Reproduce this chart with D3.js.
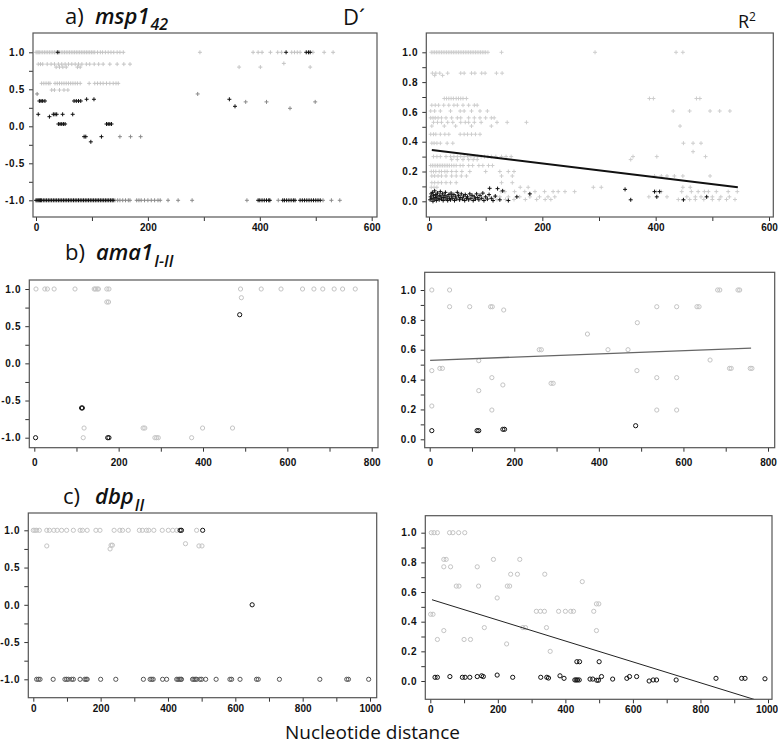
<!DOCTYPE html>
<html><head><meta charset="utf-8">
<script src="https://cdn.jsdelivr.net/npm/d3@7"></script>
<style>body{margin:0;background:#fff}svg{display:block}</style>
</head><body>
<script>
// ---------- DATA ----------
// Panel a) msp1_42, D'  (rows: [y, [x...]])
const aDLightRows = [
  [1.0, [0,2,4,6,9,12,15,18,21,24,27,30,33,36,39,42,45,48,51,54,57,60,63,66,69,72,75,78,81,84,87,90,93,96,99,102,105,110,115,119,124,129,134,139,145,150,156,293,388,397,404,419,432,439,457,462,467,472,495,515,531]],
  [0.84, [4,8,12,20,27,33,40,46,52,58,64,70,76,82,90,96,104,112,120,132,145,157,168]],
  [0.80, [36,42,48,54,74,79,363,401,490]],
  [0.85, [443]],
  [0.58, [10,14,18,22,25,34,38,42,46,50,54,58,62,66,70,74,79,95,105,110,115,120,126,132,138,143,147]],
  [0.49, [28,33,42,50,57]]
];
const aDMidRows = [
  [-0.14, [150,169,187]],
  [0.33, [374.8,412,499]],
  [0.243, [454]],
  [0.437, [2,289]],
  [-1.0, [141,146,150,155,160,165,168,180,184,188,194,200,206,212,218,222,236,254,279,377,433,513,528,543]]
];
const aDDarkRows = [
  [0.342, [6,9,12,16,68,72,76,80]],
  [0.365, [90.5,103.6,345.6]],
  [0.27, [355.7]],
  [0.162, [4,31,34,37,47.6,65.6]],
  [0.13, [24]],
  [0.031, [40,43,46,49,52,126,129,132,135]],
  [-0.14, [86,89,117]],
  [-0.21, [98]],
  [1.0, [39,447,483,487,490]],
  [-1.0, [0,2,4,6,8,10,13,16,19,22,25,28,31,34,37,40,43,46,49,52,55,58,61,64,67,70,73,76,79,82,85,88,91,94,97,100,103,106,109,112,115,118,121,124,127,130,133,136,138,397,400,404,408,412,416,418,441,444,448,452,456,460,463,472,476,480,484,488,492,496,500,504,508]]
];

// Panel a) msp1_42, R^2
const aRLightRows = [
  [1.0, [4,7,10,13,16,19,22,25,28,31,34,37,40,43,46,49,52,55,58,61,64,67,70,73,76,79,82,85,88,91,94,97,100,104,128,293,436,448]],
  [0.86, [6,12,19,33,56,62,75,81,93,99,119,129]],
  [0.845, [10,24]],
  [0.69, [27,31,35,39,43,48,52,56,60,66,389,396,472,478]],
  [0.645, [5,11,17,26,35,44,50,60,70,80,85]],
  [0.606, [3,10,20,38,55,62,75,90,103,431,460,496,513,531]],
  [0.56, [3,7,11,16,22,30,40,50,56,70,80,90,100,110,115]],
  [0.53, [8,15,22,33,42,56,64,70,80,92,120,138,172]],
  [0.505, [5,27,47,75,110,443]],
  [0.45, [3,8,12,20,28,35,55,62,68,75,82,90]],
  [0.39, [5,9,14,20,32,42,449,466,480]],
  [0.333, [466]],
  [0.3, [8,14,20,30,38,44,50,56,62,68,74,80,86,92,98,104,110,118,128,136,145,360,402,488]],
  [0.28, [40,50,60,70,78,85,356]],
  [0.24, [3,6,9,12,15,18,21,24,27,30,33,36,40,44,48,55,60,70,77,88,95,105,112]],
  [0.2, [4,8,12,18,22,28,32,40,48,58,72,100,125,140,150]],
  [0.17, [5,10,16,22,30,40,48,57,66,128,147,398,410,420,433,448,496]],
  [0.125, [5,10,16,22,30,38,48,128,147]],
  [0.094, [4,9,14,161,175,290,304,448,461]],
  [0.065, [127,134,151,169,187,204,219,228,240,257,401,410,446,463,475,486,493,507,528,544]],
  [0.03, [116,125,140,160,178,195,210,222,388,420,455,470,480,500,515,530]],
  [0.012, [120,135,150,170,190,205,215,440,460,470,485,500,512,525,540]]
];
const aRDark = [[2,0.01],[3,0.03],[4,0.05],[5,0.02],[6,0.06],[7,0.0],[8,0.04],[9,0.015],[10,0.07],[11,0.025],[12,0.045],[13,0.005],[14,0.035],[15,0.055],[16,0.02],[18,0.01],[19,0.04],[20,0.065],[21,0.03],[22,0.015],[24,0.05],[25,0.005],[26,0.025],[28,0.04],[29,0.06],[30,0.015],[32,0.03],[33,0.005],[35,0.045],[36,0.02],[38,0.01],[39,0.055],[40,0.035],[42,0.02],[44,0.045],[45,0.005],[47,0.03],[49,0.015],[50,0.06],[52,0.04],[54,0.01],[55,0.025],[57,0.05],[59,0.015],[61,0.035],[63,0.005],[64,0.045],[66,0.02],[68,0.03],[70,0.01],[72,0.05],[74,0.02],[76,0.04],[78,0.005],[80,0.03],[82,0.015],[84,0.05],[86,0.025],[88,0.01],[90,0.04],[93,0.02],[95,0.055],[97,0.005],[100,0.03],[103,0.015],[106,0.045],[107,0.087],[110,0.02],[113,0.005],[117,0.035],[121,0.085],[125,0.01],[130,0.07],[140,0.005],[155,0.03],[178,0.05],[346,0.08],[356,0.01],[398,0.065],[402,0.03],[407,0.065],[449,0.01],[490,0.03]];
const aRLine = [[5,0.345],[545,0.095]];

// Panel b) ama1_I-II
const bDLight = [[4,1],[25,1],[31,1],[47,1],[96.5,1],[142,1],[145,1],[149,1],[152,1],[172,1],[177,1],[489,1],[538,1],[585,1],[636,1],[663,1],[684,1],[711,1],[731,1],[761,1],[491,0.883],[172,0.825],[176,0.825],[118,-0.87],[258,-0.87],[262,-0.87],[399,-0.87],[470,-0.87],[116,-1],[286,-1],[290,-1],[294,-1],[373,-1]];
const bDDark = [[487,0.654],[112,-0.6],[114,-0.6],[3,-1],[174,-1],[177,-1]];
const bRLight = [[5,1],[47,1],[47,0.888],[94.6,0.888],[144,0.888],[148,0.888],[175,0.866],[5,0.46],[5,0.223],[24,0.475],[30,0.475],[116,0.527],[116,0.326],[147,0.413],[147,0.196],[173,0.364],[259,0.6],[264,0.6],[287,0.375],[292,0.375],[373,0.705],[421.6,0.6],[469,0.6],[491,0.781],[490,0.46],[537,0.888],[537,0.413],[537,0.196],[584,0.888],[584,0.413],[584,0.196],[632,0.888],[637,0.888],[663,0.531],[681,1],[686,1],[709,0.475],[713,0.475],[729,1],[733,1],[758,0.475],[762,0.475]];
const bRDark = [[5,0.058],[112,0.058],[116,0.058],[173,0.067],[177,0.067],[487,0.091]];
const bRLine = [[1,0.529],[760,0.611]];

// Panel c) dbp_II
const cDLightRows = [
  [1.0, [0,5,10,18,40,48,61,71,84,99,119,139,146,160,186,198,240,257,265,282,315,324,336,343,358,383,401,414,426,485]]
];
const cDLightExtra = [[40,0.79],[228,0.75],[231,0.8],[235,0.8],[452,0.82],[492,0.79],[501,0.79]];
const cDDark = [[436,1],[440,1],[503,1],[650,0]];
const cDMidX = [10,15,20,59,94,99,104,114,119,139,153,157,160,200,245,327,347,352,356,384,396,426,430,434,438,440,473,477,481,485,495,500,512,543,584,589,614,663,668,731,851,931,936,996];
const cRLight = [[3,1],[11,1],[21,1],[57,1],[67,1],[84,1],[102,1],[40,0.82],[47,0.82],[187,0.82],[265,0.82],[40,0.77],[60,0.77],[139,0.77],[238,0.72],[258,0.72],[339,0.72],[450,0.67],[77,0.64],[85,0.64],[143,0.64],[228,0.64],[235,0.64],[198,0.56],[492,0.52],[499,0.52],[314,0.47],[326,0.47],[338,0.47],[380,0.47],[400,0.47],[416,0.47],[424,0.47],[484,0.47],[1,0.45],[8,0.45],[160,0.36],[274,0.36],[282,0.36],[344,0.36],[40,0.34],[492,0.34],[21,0.28],[100,0.28],[119,0.28],[226,0.25],[355,0.2]];
const cRDark = [[434,0.13],[442,0.13],[500,0.13],[14,0.025],[21,0.025],[58,0.03],[95,0.025],[103,0.025],[117,0.025],[139,0.03],[152,0.035],[157,0.03],[198,0.04],[244,0.025],[327,0.025],[345,0.025],[350,0.02],[384,0.035],[396,0.018],[428,0.007],[432,0.007],[436,0.007],[441,0.007],[473,0.013],[481,0.013],[493,0.005],[498,0.005],[507,0.03],[540,0.013],[582,0.018],[590,0.03],[611,0.03],[648,0.0],[660,0.007],[670,0.007],[728,0.007],[846,0.018],[922,0.018],[932,0.018],[991,0.015]];
const cRLine = [[5,0.548],[1000,-0.153]];

// Ticks
const dTicks = [-1,-0.75,-0.5,-0.25,0,0.25,0.5,0.75,1];
const dTickLabels = [-1,-0.5,0,0.5,1];
const rTicks = [0,0.1,0.2,0.3,0.4,0.5,0.6,0.7,0.8,0.9,1.0];
const rTickLabels = [0,0.2,0.4,0.6,0.8,1.0];
const x600Ticks = [0,100,200,300,400,500,600];
const x800Ticks = [0,100,200,300,400,500,600,700,800];
const x1000Ticks = [0,100,200,300,400,500,600,700,800,900,1000];
const xLabelsEvery = 200;

// ---------- DRAW ----------
const rows = r => r.flatMap(([yv, xs]) => xs.map(xv => [xv, yv]));
const svg = d3.select("body").append("svg").attr("width",778).attr("height",745);
const LIGHT = "#c4c4c4", LIGHT2 = "#cdcdcd", MID = "#8a8a8a", DARK = "#111";

const panels = [
  {id:"aD", f:[33,33,377,217], xd:[0,600], xr:[36,371.7], yd:[-1,1], yr:[200.3,52.3], xt:x600Ticks, yt:dTicks, yl:dTickLabels, xpad:3,
   sets:[[rows(aDLightRows),LIGHT,"plus"],[rows(aDMidRows),MID,"plus"],[rows(aDDarkRows),DARK,"plus"]]},
  {id:"aR", f:[426.3,33,773.3,217], xd:[0,600], xr:[429,769], yd:[0,1], yr:[201.3,52.3], xt:x600Ticks, yt:rTicks, yl:rTickLabels, xpad:3,
   sets:[[rows(aRLightRows),LIGHT2,"plus"],[aRDark,DARK,"plus"]], line:aRLine, lw:2, lc:"#111"},
  {id:"bD", f:[29.3,280,378,447.7], xd:[0,800], xr:[34.3,371.7], yd:[-1,1], yr:[437.7,289], xt:x800Ticks, yt:dTicks, yl:dTickLabels, xpad:7,
   sets:[[bDLight,LIGHT,"circle"],[bDDark,DARK,"circle"]]},
  {id:"bR", f:[424.7,272.3,774.7,447.7], xd:[0,800], xr:[429.7,768], yd:[0,1], yr:[439.3,290], xt:x800Ticks, yt:rTicks, yl:rTickLabels, xpad:7,
   sets:[[bRLight,LIGHT,"circle"],[bRDark,DARK,"circle"]], line:bRLine, lw:1.3, lc:"#666"},
  {id:"cD", f:[28.3,513,376.7,697.7], xd:[0,1000], xr:[33.3,370], yd:[-1,1], yr:[679.3,530.3], xt:x1000Ticks, yt:dTicks, yl:dTickLabels, xpad:3,
   sets:[[rows(cDLightRows).concat(cDLightExtra),LIGHT,"circle"],[cDMidX.map(v=>[v,-1]),"#555","circle"],[cDDark,DARK,"circle"]]},
  {id:"cR", f:[425.3,515.7,772,699.3], xd:[0,1000], xr:[430.3,768], yd:[0,1], yr:[681,532.7], xt:x1000Ticks, yt:rTicks, yl:rTickLabels, xpad:3, edge:true,
   sets:[[cRLight,LIGHT,"circle"],[cRDark,DARK,"circle"]], line:cRLine, lw:1, lc:"#222"}
];

const fmt = d => (d<0?"-":"") + Math.abs(d).toFixed(1);

panels.forEach(p => {
  const g = svg.append("g");
  const x = d3.scaleLinear().domain(p.xd).range(p.xr);
  const y = d3.scaleLinear().domain(p.yd).range(p.yr);
  const [x0,y0,x1,y1] = p.f;
  g.append("clipPath").attr("id","clip-"+p.id).append("rect")
    .attr("x",x0).attr("y",y0).attr("width",x1-x0).attr("height",y1-y0);
  const xa = d3.axisBottom(x).tickValues(p.xt).tickSize(4).tickPadding(p.xpad)
    .tickFormat(d => d % xLabelsEvery === 0 ? String(d) : "");
  const gx = g.append("g").attr("transform",`translate(0,${y1})`).call(xa);
  const ya = d3.axisLeft(y).tickValues(p.yt).tickSize(4).tickPadding(4)
    .tickFormat(d => p.yl.some(v => Math.abs(v-d)<1e-9) ? fmt(d) : "");
  const gy = g.append("g").attr("transform",`translate(${x0},0)`).call(ya);
  [gx,gy].forEach(a => {
    a.select(".domain").remove();
    a.selectAll(".tick line").attr("stroke","#333");
    a.selectAll("text").attr("font-family","'Liberation Sans', Arial, sans-serif")
      .attr("font-weight","bold").attr("font-size","10px").attr("fill","#111");
  });
  if (p.edge) gx.selectAll("text").filter(d => d === 1000).attr("dx",-1.5);
  gy.selectAll("text").attr("letter-spacing","0.7px");
  const m = g.append("g").attr("clip-path",`url(#clip-${p.id})`);
  p.sets.forEach(([data,color,shape]) => {
    if (shape === "plus") {
      m.append("g").selectAll("path").data(data).join("path")
        .attr("d", d => `M${x(d[0])-2},${y(d[1])}h4M${x(d[0])},${y(d[1])-2}v4`)
        .attr("stroke", color).attr("stroke-width",1).attr("fill","none");
    } else {
      m.append("g").selectAll("circle").data(data).join("circle")
        .attr("cx", d => x(d[0])).attr("cy", d => y(d[1])).attr("r",2.1)
        .attr("fill","none").attr("stroke",color).attr("stroke-width",1);
    }
  });
  if (p.line) {
    m.append("path").datum(p.line)
      .attr("d", d3.line().x(d=>x(d[0])).y(d=>y(d[1])))
      .attr("stroke",p.lc).attr("stroke-width",p.lw).attr("fill","none");
  }
  g.append("rect").attr("x",x0).attr("y",y0).attr("width",x1-x0).attr("height",y1-y0)
    .attr("fill","none").attr("stroke","#555").attr("stroke-width",1.2);
});

// ---------- TITLES ----------
const TF = "'Open Sans', 'Noto Sans', sans-serif";
function title(lbl, gene, sub, xl, xg, base, subDy) {
  const t = svg.append("text").attr("font-family",TF).attr("fill","#111").attr("font-size","22px");
  t.append("tspan").attr("x",xl).attr("y",base).text(lbl);
  t.append("tspan").attr("x",xg).attr("y",base).attr("font-style","italic").attr("font-weight",600).text(gene);
  t.append("tspan").attr("dx",1).attr("dy",subDy).attr("font-style","italic").attr("font-weight",600).attr("font-size","16px").text(sub);
}
title("a)", "msp1", "42", 65, 95, 23.5, 6);
title("b)", "ama1", "I-II", 65, 96, 260, 7);
title("c)", "dbp", "II", 63, 95, 504, 7);

svg.append("text").attr("x",343).attr("y",25).attr("font-family",TF).attr("font-size","22px").attr("fill","#111").text("D\u00B4");
const r2 = svg.append("text").attr("x",738).attr("y",27.5).attr("font-family",TF).attr("font-size","18px").attr("fill","#111");
r2.append("tspan").text("R");
r2.append("tspan").attr("font-size","12px").attr("dy",-7).text("2");

svg.append("text").attr("x",285).attr("y",739).attr("font-family",TF).attr("font-size","19px").attr("fill","#111").text("Nucleotide distance");
</script>
</body></html>
